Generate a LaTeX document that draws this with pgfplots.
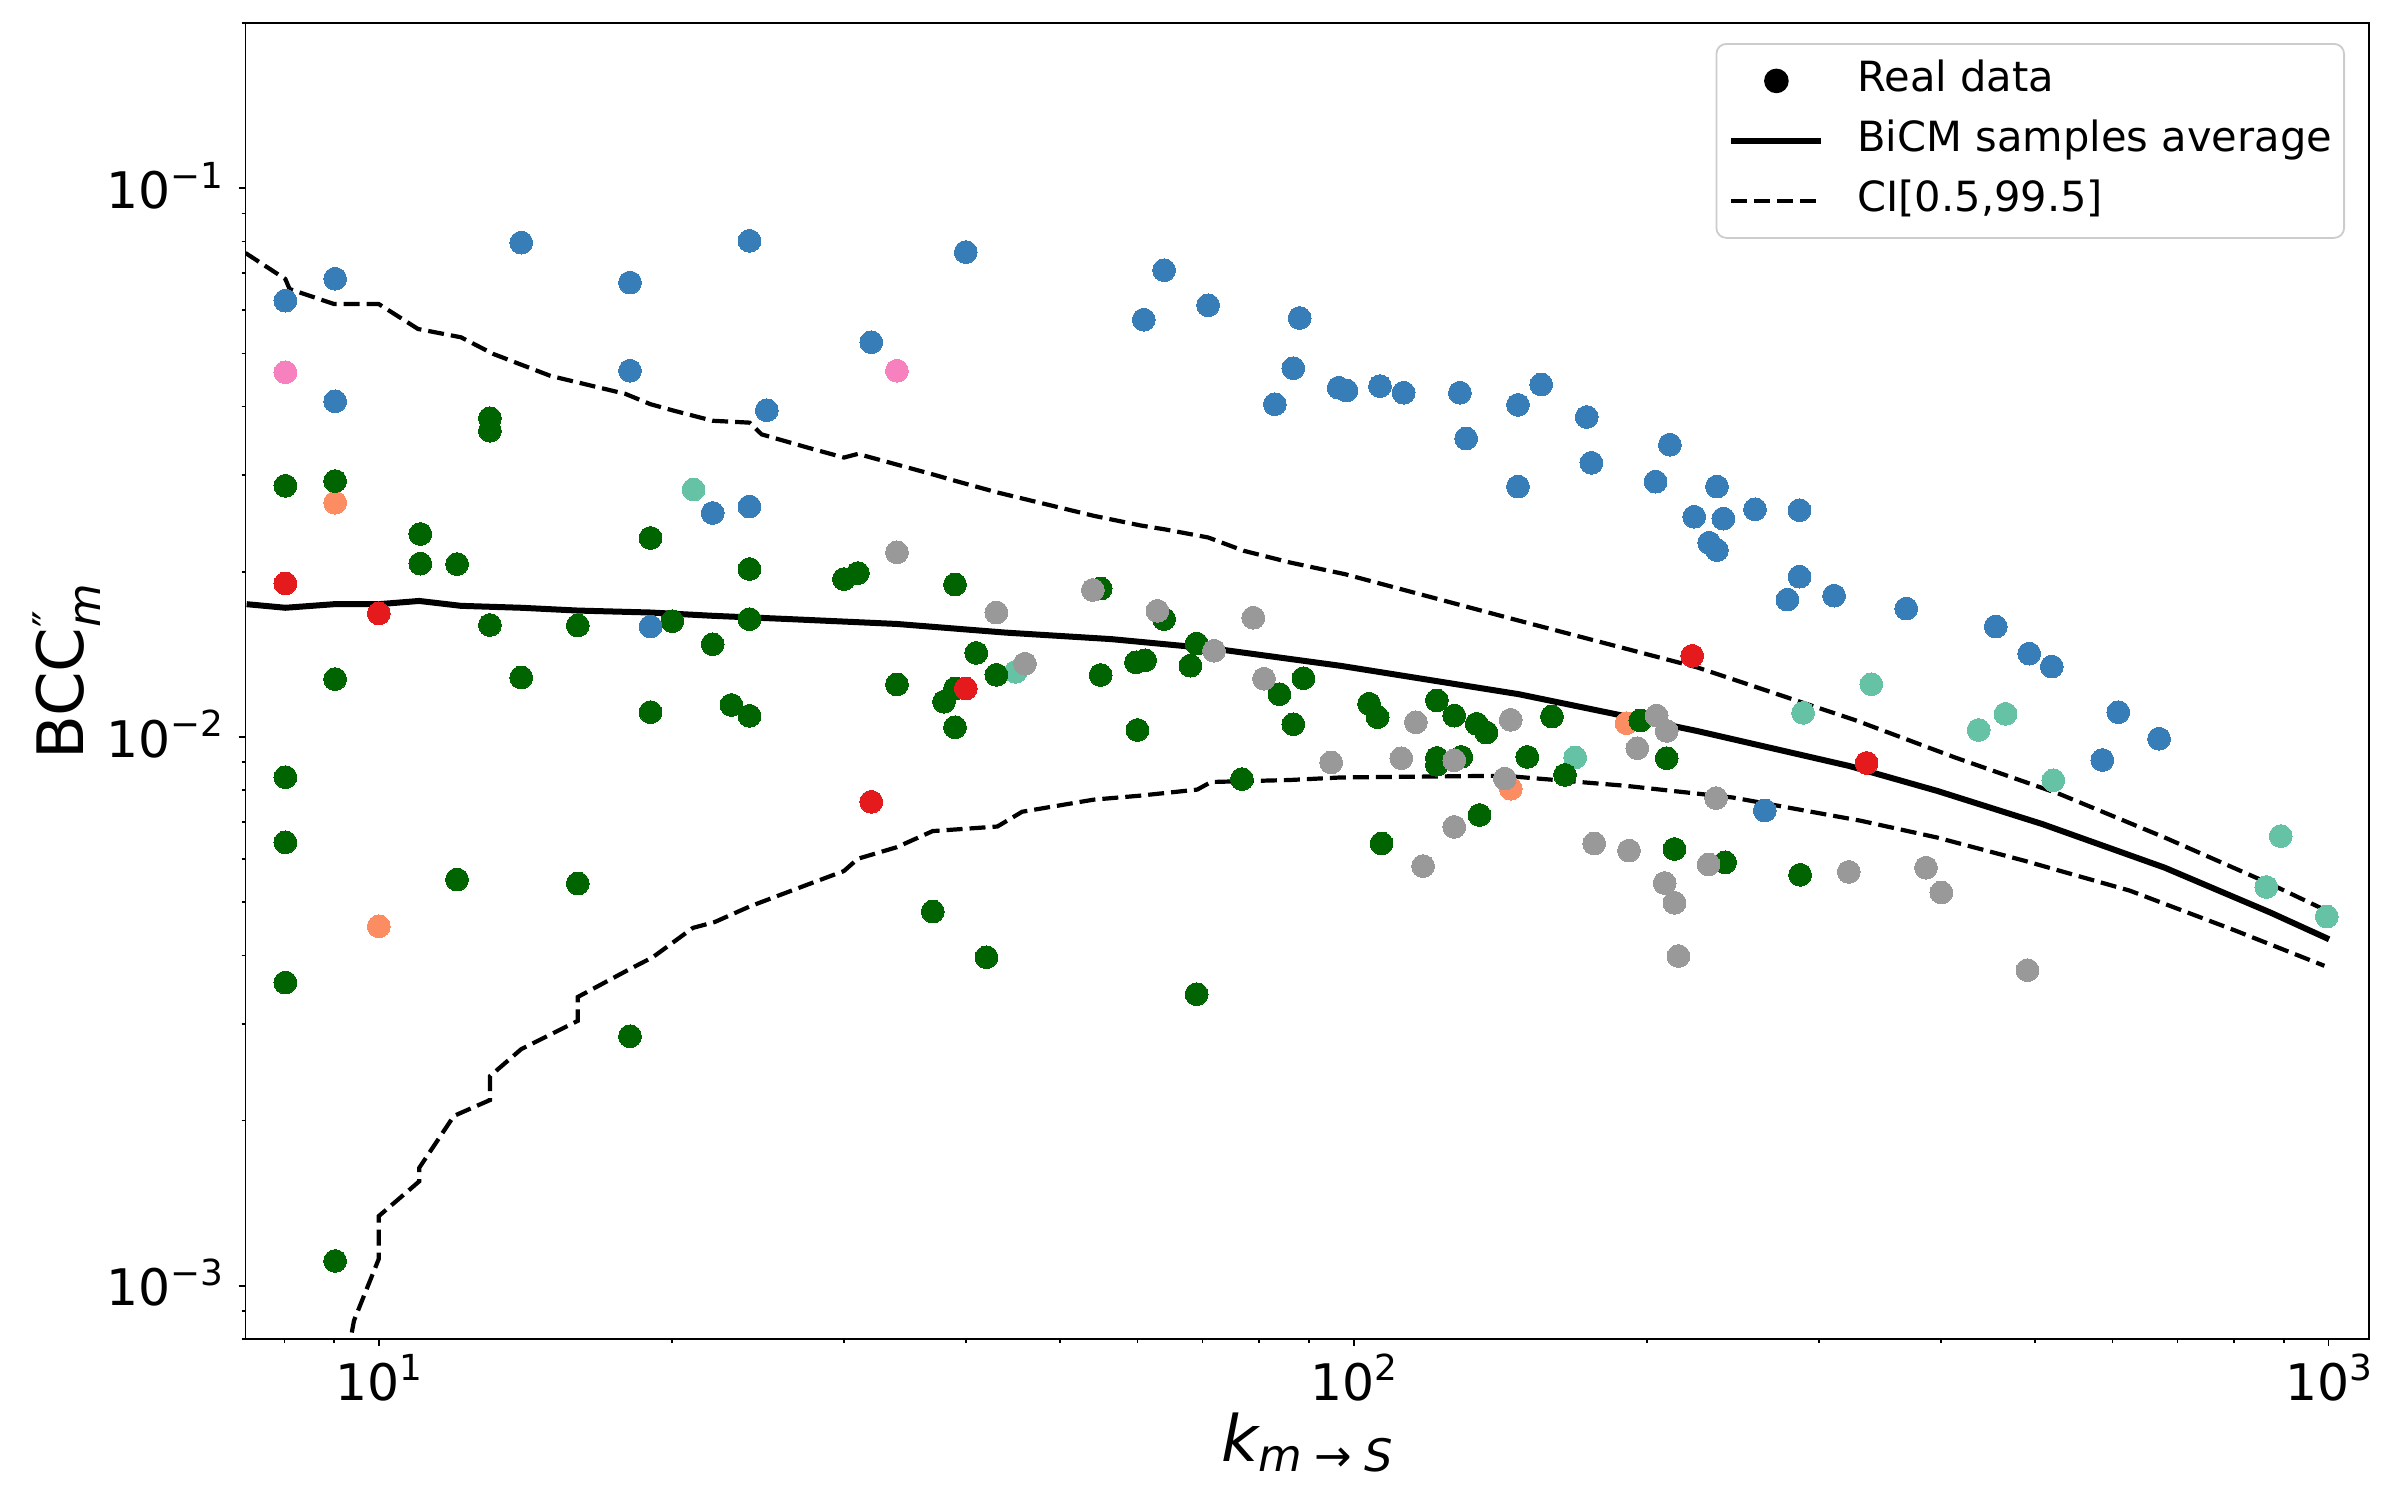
\documentclass[border=0pt]{standalone}
\usepackage{fontspec}
\setmainfont{DejaVu Sans}
\usepackage{pgfplots}
\pgfplotsset{compat=1.18}
\definecolor{cblue}{HTML}{377EB8}
\definecolor{cgreen}{HTML}{006400}
\definecolor{cgray}{HTML}{999999}
\definecolor{cred}{HTML}{E41A1C}
\definecolor{corange}{HTML}{FC8D62}
\definecolor{cteal}{HTML}{66C2A5}
\definecolor{cpink}{HTML}{F781BF}
\newcommand{\sups}[1]{\raisebox{0.40em}{\fontsize{8.96}{10}\selectfont #1}}
\pgfplotsset{scat/.style={only marks, mark=*, mark size=2.85pt, color=#1, mark options={line width=0pt}, forget plot}}
\begin{document}
\begin{tikzpicture}
\useasboundingbox (-61.375pt,-40.25pt) rectangle (538.625pt,334.75pt);
\begin{axis}[
  at={(0pt,0pt)}, anchor=south west,
  scale only axis, width=530.875pt, height=329pt,
  xmode=log, ymode=log,
  xmin=7.3, xmax=1100, ymin=0.0008, ymax=0.2,
  axis line style={line width=0.45pt},
  tick pos=left, tick align=outside,
  major tick length=1.7pt, minor tick length=1pt,
  tick style={line width=0.4pt, black},
  xtick={10,100,1000},
  xticklabels={10\sups{1},10\sups{2},10\sups{3}},
  minor xtick={8,9,20,30,40,50,60,70,80,90,200,300,400,500,600,700,800,900},
  ytick={0.001,0.01,0.1},
  yticklabels={10\sups{−3},10\sups{−2},10\sups{−1}},
  minor ytick={0.0008,0.0009,0.002,0.003,0.004,0.005,0.006,0.007,0.008,0.009,0.02,0.03,0.04,0.05,0.06,0.07,0.08,0.09,0.2},
  tick label style={font=\fontsize{12.6}{15}\selectfont},
  xticklabel style={anchor=base, inner sep=0pt, yshift=-13.6pt},
  yticklabel style={anchor=base east, inner sep=0pt, xshift=-3.7pt, yshift=-5pt},
  label style={font=\fontsize{16}{19}\selectfont},
  xlabel={{\itshape k}\raisebox{-2.5pt}{\fontsize{11.2}{12}\selectfont\itshape m\hspace{3pt}{\upshape →}\hspace{3pt}S}},
  ylabel={BCC\rlap{\raisebox{4.5pt}{\fontsize{11.2}{12}\selectfont ″}}\raisebox{-4.2pt}{\fontsize{11.2}{12}\selectfont\itshape m}},
  xlabel style={at={(axis description cs:0.5,-0.0933)}, anchor=base},
  ylabel style={at={(axis description cs:-0.0764,0.507)}, anchor=base},
  legend style={at={(1,1)}, anchor=north east, xshift=-6pt, yshift=-5pt,
    draw=black!20, line width=0.45pt, rounded corners=2.5pt, fill=white,
    font=\fontsize{10.4}{12.5}\selectfont,
    inner xsep=3pt, inner ysep=4pt, row sep=4.5pt, column sep=8.25pt,
    nodes={inner sep=0pt, text height=8pt, text depth=2.5pt}},
  legend cell align=left,
]
\addlegendimage{legend image code/.code={\fill[black] (11.25pt,0pt) circle (2.85pt);}}
\addlegendentry{Real data}
\addlegendimage{legend image code/.code={\draw[black, line width=1.5pt] (0pt,0pt) -- (22.5pt,0pt);}}
\addlegendentry{BiCM samples average}
\addlegendimage{legend image code/.code={\draw[black, line width=1.05pt, dash pattern=on 4pt off 1.75pt] (0pt,0pt) -- (22.5pt,0pt);}}
\addlegendentry{CI[0.5,99.5]}

% orange
\addplot[scat=corange] coordinates {
(9.02,0.02673) (10,0.00452) (144.9,0.00805) (190.5,0.0106)
};
% teal
\addplot[scat=cteal] coordinates {
(21.03,0.02825) (45,0.01315) (168.7,0.00918) (289,0.01107) (339.6,0.01248)
(437.5,0.0103) (466.2,0.01102) (521.9,0.00834) (863,0.00533) (893,0.0066) (995.6,0.00471)
};
% green
\addplot[scat=cgreen] coordinates {
(8.02,0.0287) (8.02,0.00845) (8.02,0.00643) (8.02,0.00357)
(9.02,0.02927) (9.02,0.01275) (9.02,0.00111)
(11.03,0.02344) (11.03,0.0207) (12.03,0.02066) (12.03,0.0055)
(13,0.0381) (13,0.03616) (13,0.016) (14,0.01284)
(16,0.01597) (16,0.00541) (18.1,0.00285)
(19,0.02305) (19,0.0111) (20,0.01626) (22,0.01476) (23,0.01144)
(24,0.02023) (24,0.0164) (24,0.01093)
(30,0.0194) (31,0.0199) (34,0.01247) (37,0.00481) (38,0.0116)
(39,0.01897) (39,0.01226) (39,0.01042) (41,0.01423) (42,0.00397) (43,0.01298)
(55,0.01865) (55,0.01297) (60,0.0103) (59.8,0.01368) (61.1,0.0138)
(63.9,0.0164) (68,0.01349) (69,0.0148) (69,0.0034) (76.8,0.00838)
(83.9,0.01197) (86.7,0.01055) (88.8,0.0128)
(103.7,0.0115) (105.8,0.01087) (106.8,0.0064)
(121.7,0.01166) (126.8,0.01094) (133.7,0.01057) (136.8,0.01019)
(121.7,0.00916) (121.7,0.0089) (128.9,0.0092) (134.6,0.00721)
(150.7,0.0092) (159.7,0.0109) (164.7,0.00853) (196.8,0.01072)
(209.4,0.00915) (213.3,0.00625) (240.4,0.00591) (287,0.00561)
};
% gray
\addplot[scat=cgray] coordinates {
(34,0.0217) (43,0.01686) (46,0.0136) (54,0.01853) (62.9,0.01698)
(71.9,0.01436) (78.9,0.0165) (80.9,0.01277) (94.8,0.00899)
(111.9,0.00915) (115.8,0.01064) (117.8,0.00582) (126.8,0.00907) (126.8,0.00686)
(142.9,0.0084) (144.9,0.01075) (176.5,0.0064) (191.6,0.00621) (195.4,0.00954)
(204.5,0.01094) (209.4,0.01026) (208.4,0.00542) (213.3,0.00499) (215.3,0.00399)
(231.2,0.00586) (235.3,0.00774) (322,0.00568) (386.4,0.00578) (400.6,0.00521) (491,0.00376)
};
% blue
\addplot[scat=cblue] coordinates {
(8.02,0.0624) (9.02,0.0684) (9.02,0.0409) (14,0.0796) (18.1,0.0673) (18.1,0.0465)
(19,0.0159) (22,0.0256) (24,0.0802) (24,0.0263) (25,0.0394) (32,0.0524)
(40,0.0765) (60.9,0.0576) (63.9,0.0709) (70.9,0.0612) (83,0.0404) (86.7,0.047)
(88,0.058) (96.5,0.0433) (98.3,0.0428) (106.4,0.0436) (112.5,0.0424)
(128.5,0.0424) (130.4,0.035) (147.4,0.0403) (147.4,0.0286) (155.7,0.0439)
(173.4,0.0383) (175.3,0.0316) (204,0.0292) (211,0.0341) (223.5,0.0252)
(231.5,0.0226) (235.8,0.0219) (235.8,0.0286) (239.4,0.025) (258,0.026)
(278.5,0.0178) (286.6,0.0259) (286.6,0.0196) (311,0.0181) (368.8,0.01714)
(455.5,0.0159) (493,0.01419) (520,0.01344) (586,0.00908) (608.5,0.0111)
(670,0.00993) (264,0.00735)
};
% red
\addplot[scat=cred] coordinates {
(8.02,0.01905) (10,0.0168) (32,0.00762) (40,0.01226) (222.4,0.01406) (335.8,0.00897)
};
% pink
\addplot[scat=cpink] coordinates {
(8.02,0.0462) (34,0.0465)
};

% BiCM average
\addplot[black, line width=1.5pt, forget plot] coordinates {
(7.32,0.01746) (8.02,0.0172) (9.0,0.01746) (10,0.01746) (11,0.0177) (12.14,0.01734)
(14,0.0172) (16,0.0170) (19,0.01686) (22,0.01663) (26.4,0.0164) (34,0.01607)
(43.9,0.0155) (56.4,0.01508) (72.7,0.01445) (97,0.01348) (147.6,0.01197)
(224.8,0.01026) (322,0.00886) (396.6,0.00798) (508.6,0.00694) (679,0.00578)
(871,0.00479) (1001,0.00428)
};
% CI upper
\addplot[black, line width=1.05pt, dash pattern=on 4pt off 1.75pt, forget plot] coordinates {
(7.3,0.0762) (8.02,0.0683) (8.1,0.0655) (9.0,0.0615) (10.0,0.0615) (10.97,0.0554)
(12.14,0.0535) (13.1,0.0499) (15,0.0455) (17.9,0.0422) (19,0.0404) (20.1,0.0393)
(22,0.0377) (24,0.0374) (24.7,0.0356) (27.5,0.0337) (30,0.0323) (31,0.0328)
(37,0.0301) (39,0.0293) (43.1,0.0279) (54.1,0.0253) (60.4,0.0243) (64,0.0239)
(70.9,0.0231) (77.1,0.02185) (86,0.0208) (98,0.0198) (147.6,0.0163)
(224.8,0.0134) (326.6,0.01074) (413.6,0.00918) (530,0.00787) (679,0.00656)
(871,0.0054) (994,0.00483)
};
% CI lower
\addplot[black, line width=1.05pt, dash pattern=on 4pt off 1.75pt, forget plot] coordinates {
(9.2,0.00068) (9.43,0.000864) (10,0.00112) (10,0.00134) (11,0.00155) (11,0.00164)
(11.94,0.00204) (13,0.00218) (13,0.00241) (14,0.0027) (16,0.00304) (16,0.00336)
(18.05,0.00377) (19.1,0.00397) (21,0.00449) (22.1,0.0046) (24,0.00491)
(27.5,0.00538) (30,0.0057) (31,0.006) (34,0.0063) (37,0.00674) (43.1,0.00687)
(45.7,0.00731) (54.1,0.00769) (60.4,0.00782) (69.1,0.00802) (71.4,0.00828)
(86,0.00835) (97,0.00844) (142.6,0.0085) (190,0.00815) (244.7,0.00776)
(331,0.00704) (396.6,0.00656) (487.6,0.00595) (625,0.00525) (802,0.00444) (990,0.00383)
};
\end{axis}
\end{tikzpicture}
\end{document}
